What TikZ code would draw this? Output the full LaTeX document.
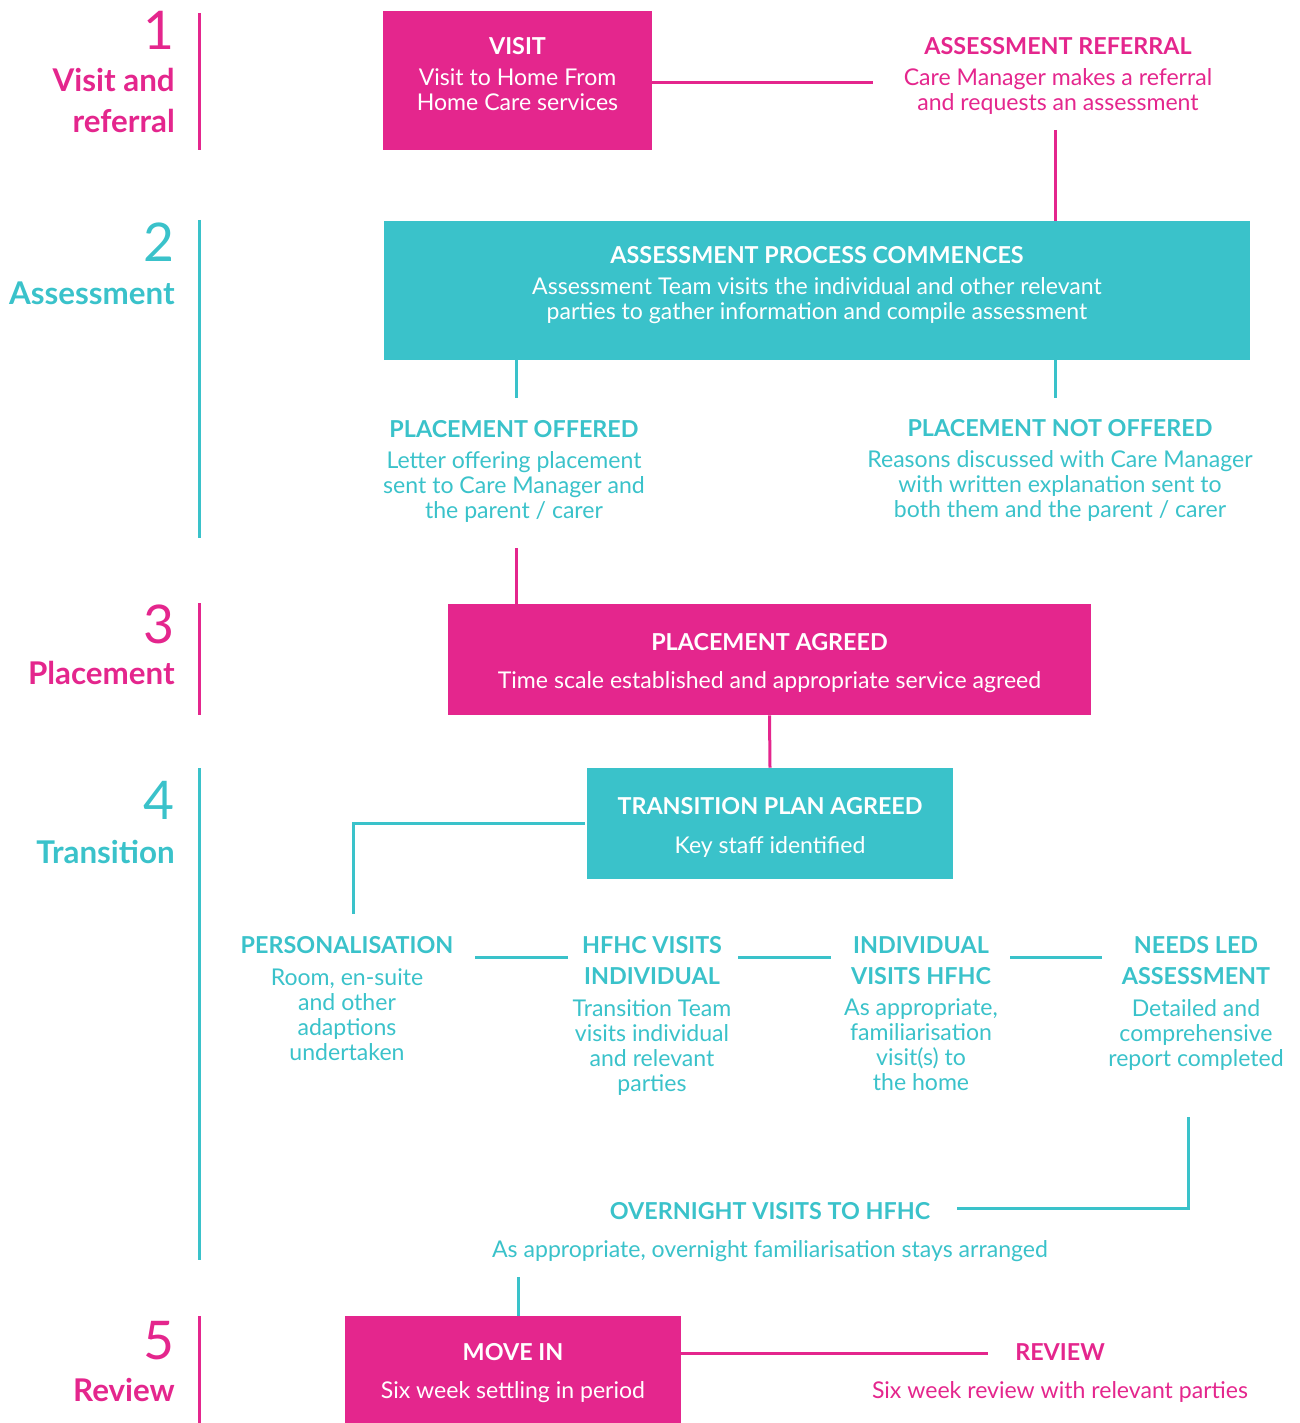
\documentclass[tikz,border=0pt]{standalone}
\usepackage{fontspec}
\setmainfont{Lato}
\definecolor{mag}{HTML}{E4268D}
\definecolor{tq}{HTML}{3AC2CA}
\newcommand{\bodyf}{\fontsize{17.3}{18.75}\selectfont}
\newcommand{\ttl}{\bfseries\fontsize{17.5}{18.75}\selectfont}
\newcommand{\stg}{\bfseries\fontsize{23.5}{26}\selectfont}
\newcommand{\stn}{\fontsize{40}{44}\selectfont}
\begin{document}
\begin{tikzpicture}[x=0.75pt,y=-0.75pt,
  every node/.style={inner sep=0pt, align=center, font=\bodyf},
  txt/.style={anchor=north},
  boxM/.style={fill=mag, draw=none},
  boxT/.style={fill=tq, draw=none},
  lnM/.style={draw=mag, line width=2.25pt},
  lnT/.style={draw=tq, line width=2.25pt},
  stage/.style={anchor=base east}]
\useasboundingbox (0,0) rectangle (1299,1423);

% stage labels
\node[stage, text=mag, font=\stn] (s1n) at (175,49.5) {1};
\node[stage, text=mag, font=\stg] (s1a) at (175,92) {Visit and};
\node[stage, text=mag, font=\stg] (s1b) at (175,133) {referral};
\node[stage, text=tq, font=\stn] (s2n) at (175,262) {2};
\node[stage, text=tq, font=\stg] (s2a) at (175,304) {Assessment};
\node[stage, text=mag, font=\stn] (s3n) at (175,643.5) {3};
\node[stage, text=mag, font=\stg] (s3a) at (175,684) {Placement};
\node[stage, text=tq, font=\stn] (s4n) at (175,819.5) {4};
\node[stage, text=tq, font=\stg] (s4a) at (175,863) {Transition};
\node[stage, text=mag, font=\stn] (s5n) at (175,1359.5) {5};
\node[stage, text=mag, font=\stg] (s5a) at (175,1401) {Review};

\draw[lnM] (199,13) -- (199,150);
\draw[lnT] (199,220) -- (199,538);
\draw[lnM] (199,603) -- (199,715);
\draw[lnT] (199,768) -- (199,1260);
\draw[lnM] (199,1316) -- (199,1423);

% boxes
\node[boxM, minimum width=201.75pt, minimum height=104.25pt] (visit) at (517.5,80.5) {};
\node[boxT, minimum width=649.5pt, minimum height=104.25pt] (assess) at (817,290.5) {};
\node[boxM, minimum width=482.25pt, minimum height=83.25pt] (agreed) at (769.5,659.5) {};
\node[boxT, minimum width=274.5pt, minimum height=83.25pt] (trans) at (770,823.5) {};
\node[boxM, minimum width=252pt, minimum height=80.25pt] (movein) at (513,1369.5) {};

% texts
\node[txt, text=white] (visitT) at (517.5,37) {{\ttl VISIT}\\[4.5pt]Visit to Home From\\Home Care services};
\node[txt, text=mag] (refT) at (1058,37) {{\ttl ASSESSMENT REFERRAL}\\[4.5pt]Care Manager makes a referral\\and requests an assessment};
\node[txt, text=white] (assessT) at (817,246) {{\ttl ASSESSMENT PROCESS COMMENCES}\\[4.5pt]Assessment Team visits the individual and other relevant\\parties to gather information and compile assessment};
\node[txt, text=tq] (offT) at (514,420) {{\ttl PLACEMENT OFFERED}\\[4.5pt]Letter offering placement\\sent to Care Manager and\\the parent / carer};
\node[txt, text=tq] (notT) at (1060,419) {{\ttl PLACEMENT NOT OFFERED}\\[4.5pt]Reasons discussed with Care Manager\\with written explanation sent to\\both them and the parent / carer};
\node[txt, text=white] (agreedT) at (769.5,633) {{\ttl PLACEMENT AGREED}\\[9.75pt]Time scale established and appropriate service agreed};
\node[txt, text=white] (transT) at (770,797) {{\ttl TRANSITION PLAN AGREED}\\[10.5pt]Key staff identified};
\node[txt, text=tq] (persT) at (347,936) {{\ttl PERSONALISATION}\\[5pt]Room, en-suite\\and other\\adaptions\\undertaken};
\node[txt, text=tq] (hfhcT) at (652,936) {{\ttl HFHC VISITS}\\[4.5pt]{\ttl INDIVIDUAL}\\[5pt]Transition Team\\visits individual\\and relevant\\parties};
\node[txt, text=tq] (indT) at (921,936) {{\ttl INDIVIDUAL}\\[4.5pt]{\ttl VISITS HFHC}\\[5pt]As appropriate,\\familiarisation\\visit(s) to\\the home};
\node[txt, text=tq] (needT) at (1196,936) {{\ttl NEEDS LED}\\[4.5pt]{\ttl ASSESSMENT}\\[5pt]Detailed and\\comprehensive\\report completed};
\node[txt, text=tq] (overT) at (770,1202) {{\ttl OVERNIGHT VISITS TO HFHC}\\[9.75pt]As appropriate, overnight familiarisation stays arranged};
\node[txt, text=white] (moveT) at (513,1343) {{\ttl MOVE IN}\\[9.75pt]Six week settling in period};
\node[txt, text=mag] (revT) at (1060,1343) {{\ttl REVIEW}\\[9.75pt]Six week review with relevant parties};

% connector ends
\coordinate (refL) at (873,83);
\coordinate (refB) at (1055,130);
\coordinate (offTop) at (516,398);
\coordinate (notTop) at (1055,398);
\coordinate (offB) at (516,548);
\coordinate (persTop) at (353,914);
\coordinate (r1a) at (475,957); \coordinate (r1b) at (568,957);
\coordinate (r2a) at (738,957); \coordinate (r2b) at (831,957);
\coordinate (r3a) at (1010,957); \coordinate (r3b) at (1102,957);
\coordinate (needB) at (1188,1117);
\coordinate (overR) at (957,1208);
\coordinate (overB) at (518,1277);
\coordinate (revL) at (988,1353);

% connectors
\draw[lnM] (visit.east |- refL) -- (refL);
\draw[lnM] (refB) -- (refB |- assess.north);
\draw[lnT] (assess.south -| offTop) -- (offTop);
\draw[lnT] (assess.south -| notTop) -- (notTop);
\draw[lnM] (offB) -- (offB |- agreed.north);
\draw[lnM] (agreed.south) -- (trans.north);
\draw[lnT] ([xshift=-1.5pt]trans.west) -| (persTop);
\draw[lnT] (r1a) -- (r1b);
\draw[lnT] (r2a) -- (r2b);
\draw[lnT] (r3a) -- (r3b);
\draw[lnT] (needB) |- (overR);
\draw[lnT] (overB) -- (overB |- movein.north);
\draw[lnM] (movein.east |- revL) -- (revL);
\end{tikzpicture}
\end{document}
